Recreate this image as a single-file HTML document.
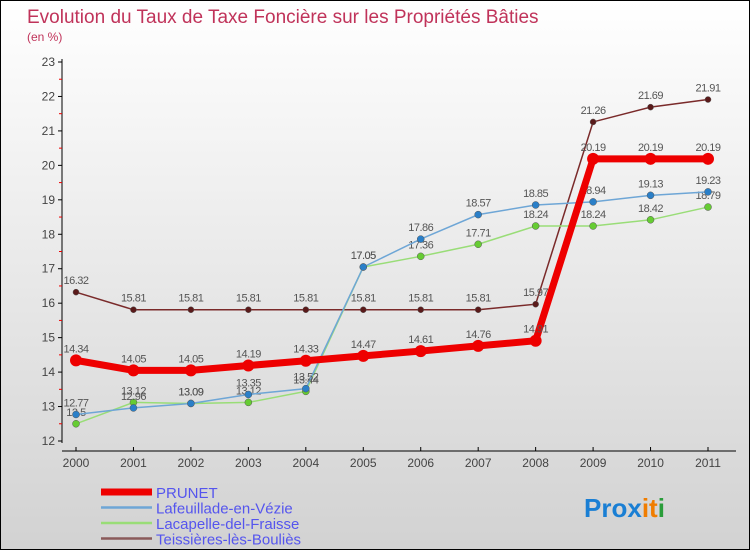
<!DOCTYPE html>
<html><head><meta charset="utf-8"><style>
body{margin:0}
#wrap{position:relative;width:748px;height:548px;border:1px solid #000;background:linear-gradient(#ffffff,#d2d2d2);font-family:"Liberation Sans",sans-serif;overflow:hidden}
</style></head><body>
<div id="wrap">
<svg id="c" width="748" height="548">
<text x="26" y="22" font-size="19" fill="#c0335a">Evolution du Taux de Taxe Foncière sur les Propriétés Bâties</text>
<text x="26" y="40" font-size="12" fill="#c0335a">(en %)</text>
<g id="axes"></g><g id="series"></g><g id="legend"></g>
<text x="583" y="516" font-size="26" font-weight="bold"><tspan fill="#1a7fd4">Pro</tspan><tspan fill="#1a7fd4">x</tspan><tspan fill="#f07d00">i</tspan><tspan fill="#f07d00">t</tspan><tspan fill="#2a9d3a">i</tspan></text>
</svg>
</div>
<script>
const years=["2000","2001","2002","2003","2004","2005","2006","2007","2008","2009","2010","2011"];
const yTicks=[12,13,14,15,16,17,18,19,20,21,22,23];
const prunet=[14.34,14.05,14.05,14.19,14.33,14.47,14.61,14.76,14.91,20.19,20.19,20.19];
const lafeuillade=[12.77,12.96,13.09,13.35,13.52,17.05,17.86,18.57,18.85,18.94,19.13,19.23];
const lacapelle=[12.5,13.12,13.09,13.12,13.44,17.05,17.36,17.71,18.24,18.24,18.42,18.79];
const teissieres=[16.32,15.81,15.81,15.81,15.81,15.81,15.81,15.81,15.97,21.26,21.69,21.91];
const names=["PRUNET","Lafeuillade-en-Vézie","Lacapelle-del-Fraisse","Teissières-lès-Bouliès"];
const NS="http://www.w3.org/2000/svg";
const x=i=>75+i*(707-75)/(years.length-1);
const y=v=>440-(v-12)*(440-61)/11;
function mk(t,a,p){const e=document.createElementNS(NS,t);for(const k in a)e.setAttribute(k,a[k]);p.appendChild(e);return e;}
const ax=document.getElementById('axes');
let yl=mk('line',{x1:61,y1:58,x2:61,y2:442,stroke:'#000'},ax);


yTicks.forEach(v=>{
 mk('line',{x1:57,x2:61,y1:y(v),y2:y(v),stroke:'#000'},ax);
 if(v<23) mk('line',{x1:58,x2:61,y1:y(v+0.5),y2:y(v+0.5),stroke:'#e00'},ax);
 const t=mk('text',{x:54,y:y(v)+4,'font-size':12,fill:'#444','text-anchor':'end'},ax);
 t.textContent=v;
 
 
});
let xl=mk('line',{x1:61,y1:450,x2:735,y2:450,stroke:'#000'},ax);


years.forEach((yr,i)=>{
 mk('line',{x1:x(i),x2:x(i),y1:446,y2:450,stroke:'#000'},ax);
 const t=mk('text',{x:x(i),y:466,'font-size':12,fill:'#444','text-anchor':'middle'},ax);
 t.textContent=yr;
 
 
});
const sg=document.getElementById('series');
const defs=[[teissieres,'#7a2a2a','#5a1a1a',1.5,3],[lacapelle,'#99dd77','#66cc33',1.5,3.5],[lafeuillade,'#6ea6d6','#2a7fc8',1.5,3.5],[prunet,'#ee0000','#ee0000',7,6]];
const keys=['teissieres','lacapelle','lafeuillade','prunet'];
defs.forEach(([d,lc,pc,w,r],k)=>{
 const g=mk('g',{},sg);
 
 
 const pl=mk('polyline',{points:d.map((v,i)=>x(i)+','+y(v)).join(' '),fill:'none',stroke:lc,'stroke-width':w},g);
 
 
 d.forEach((v,i)=>{
  const c=mk('circle',{cx:x(i),cy:y(v),r:r,fill:pc,stroke:k==3?'none':'#555','stroke-width':0.5},g);
  
  
  const t=mk('text',{x:x(i),y:y(v)-8,'font-size':11,fill:'#555','text-anchor':'middle','letter-spacing':'-0.5'},g);
  t.textContent=String(v);
  
  
 });
});
const lg=document.getElementById('legend');
const lcols=['#ee0000','#6ea6d6','#99dd77','#8a5a5a'];
names.forEach((n,i)=>{
 const yy=491+i*15.5;
 const g=mk('g',{},lg);
 
 
 mk('line',{x1:100,x2:151,y1:yy,y2:yy,stroke:lcols[i],'stroke-width':i==0?7:2.5},g);
 const t=mk('text',{x:155,y:yy+6,'font-size':15,fill:'#5555ee'},g);
 t.textContent=n;
});
</script>
</body></html>
